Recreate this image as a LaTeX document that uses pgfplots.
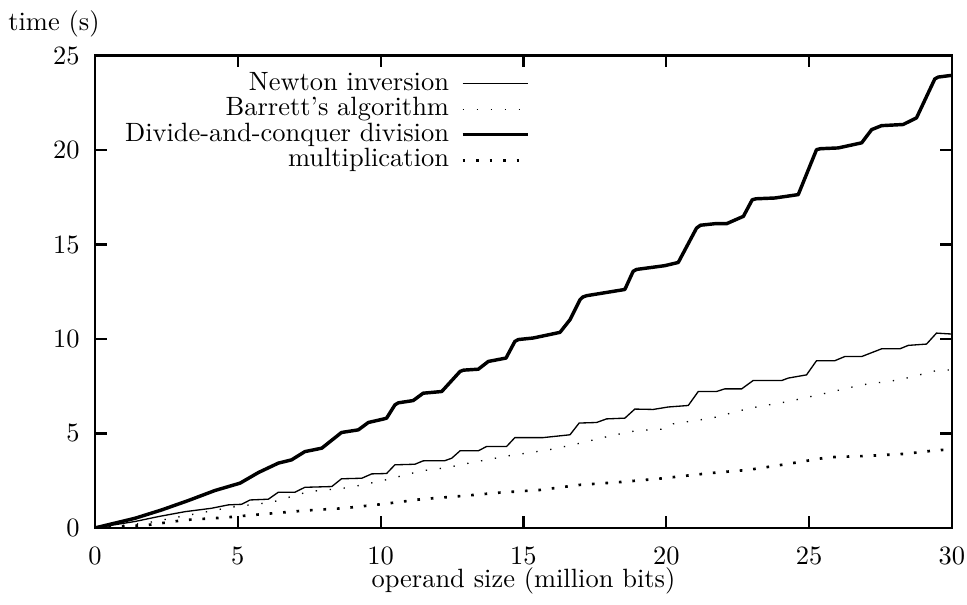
\documentclass[border=0pt]{standalone}
\usepackage{pgfplots}
\pgfplotsset{compat=1.18}
\begin{document}
\begin{tikzpicture}
\begin{axis}[
  scale only axis,
  width=324pt, height=178.6pt,
  xmin=0, xmax=30, ymin=0, ymax=25,
  xtick={0,5,...,30}, ytick={0,5,...,25},
  tick align=inside,
  major tick length=4.5pt,
  clip mode=individual,
  axis line style={line width=0.8pt},
  every tick/.style={line width=0.8pt, black},
  xticklabel style={inner sep=0pt, yshift=-7.2pt},
  yticklabel style={xshift=-2.3pt},
  xlabel={operand size (million bits)},
  xlabel style={at={(rel axis cs:0.5,0)}, anchor=base, inner sep=0pt, yshift=-22.5pt},
  legend plot pos=right,
  legend cell align=right,
  legend style={draw=none, fill=none, inner sep=0pt,
    at={(rel axis cs:0.5076,1)}, anchor=north east, yshift=-5.6pt,
    column sep=4pt,
    nodes={inner sep=0.5pt, text height=6.8pt, text depth=1.85pt}},
  legend image code/.code={\draw[#1] (0pt,0pt) -- (24.6pt,0pt);},
]
\addplot[black, line width=0.5pt] coordinates {
(0,0) (1.40,0.34) (2.22,0.60) (3.15,0.86) (4.08,1.04) (4.67,1.22) (5.13,1.25)
(5.43,1.48) (6.07,1.52) (6.42,1.89) (7.00,1.89) (7.35,2.15) (8.29,2.19)
(8.63,2.60) (9.34,2.63) (9.69,2.86) (10.21,2.88) (10.50,3.34) (11.20,3.37)
(11.49,3.55) (12.25,3.56) (12.49,3.69) (12.78,4.08) (13.42,4.08) (13.71,4.31)
(14.41,4.31) (14.70,4.78) (15.69,4.78) (16.63,4.93) (16.95,5.55) (17.56,5.58)
(17.91,5.77) (18.55,5.81) (18.90,6.29) (19.54,6.27) (20.07,6.40) (20.77,6.48)
(21.12,7.22) (21.76,7.22) (22.05,7.36) (22.64,7.36) (23.04,7.80) (24.04,7.80)
(24.27,7.93) (24.91,8.10) (25.26,8.85) (25.90,8.85) (26.25,9.07) (26.84,9.07)
(27.54,9.48) (28.18,9.48) (28.47,9.66) (29.11,9.73) (29.46,10.31) (30.0,10.26)
};
\addlegendentry{Newton inversion}
\addplot[black, line width=0.5pt, dash pattern=on 0.5pt off 4.8pt] coordinates {
(0,0) (1.75,0.25) (3.50,0.74) (4.78,1.10) (6.19,1.36) (7.47,1.92) (8.87,2.13)
(10.09,2.51) (11.43,3.02) (12.31,3.19) (13.19,3.46) (14.53,3.83) (15.87,4.13)
(16.74,4.40) (18.09,4.89) (18.96,5.15) (19.89,5.23) (20.24,5.51) (21.59,5.81)
(22.93,6.34) (24.27,6.69) (25.50,7.10) (26.84,7.57) (28.18,7.84) (29.46,8.33)
(30.0,8.37)
};
\addlegendentry{Barrett's algorithm}
\addplot[black, line width=1.3pt, line join=round] coordinates {
(0,0) (1.40,0.51) (2.33,0.95) (3.27,1.45) (4.20,1.98) (5.08,2.37) (5.72,2.93)
(6.42,3.43) (6.88,3.60) (7.35,4.04) (7.94,4.22) (8.63,5.05) (9.22,5.19)
(9.57,5.58) (10.09,5.76) (10.21,5.81) (10.50,6.51) (10.62,6.62) (11.14,6.74) (11.49,7.13)
(12.14,7.22) (12.78,8.28) (12.90,8.35) (13.42,8.40) (13.77,8.81) (14.39,8.99) (14.70,9.87)
(14.82,9.97) (15.34,10.05) (16.28,10.35) (16.63,11.02) (16.98,12.08) (17.08,12.22) (17.21,12.29)
(18.55,12.62) (18.84,13.58) (18.96,13.68) (19.95,13.88) (20.42,14.05) (21.06,15.87)
(21.20,16.02) (21.70,16.10) (22.11,16.10) (22.70,16.49) (23.01,17.37) (23.15,17.42) (23.80,17.46)
(24.62,17.64) (25.26,20.02) (25.40,20.07) (26.02,20.11) (26.84,20.38) (27.19,21.08)
(27.54,21.29) (28.29,21.35) (28.76,21.70) (29.40,23.76) (29.52,23.86) (29.93,23.94) (30.0,23.95)
};
\addlegendentry{Divide-and-conquer division}
\addplot[black, line width=1pt, dash pattern=on 1pt off 4.1pt] coordinates {
(0,0) (1.87,0.16) (3.15,0.42) (4.55,0.55) (5.95,0.74) (7.35,0.92) (8.69,1.04)
(10.06,1.26) (11.43,1.52) (12.84,1.69) (14.18,1.87) (15.58,2.01) (16.98,2.28)
(18.32,2.42) (19.72,2.60) (20.13,2.67) (21.53,2.90) (22.87,3.07) (24.27,3.39)
(25.67,3.74) (27.01,3.81) (28.35,3.92) (29.29,4.08) (30.0,4.17)
};
\addlegendentry{multiplication}
\coordinate (sw) at (rel axis cs:0,0);
\coordinate (ne) at (rel axis cs:1,1);
\node[anchor=base, xshift=-15.5pt, yshift=9.3pt] at (rel axis cs:0,1) {time (s)};
\end{axis}
\pgfresetboundingbox
\path ([shift={(-35.9pt,-29.1pt)}]sw) rectangle ([shift={(5.7pt,21pt)}]ne);
\end{tikzpicture}
\end{document}
